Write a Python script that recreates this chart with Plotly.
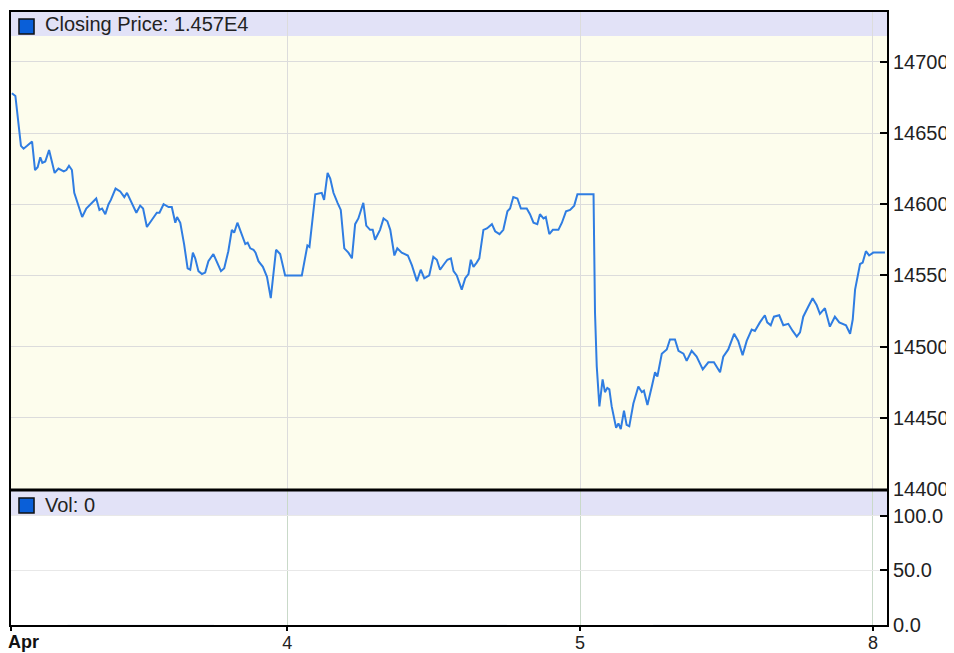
import plotly.graph_objects as go

# trading-session position (4 = Apr 4 open, 5 = Apr 5, 6 = Apr 8; weekend compressed)
session_pos = [3.060,3.072,3.091,3.100,3.112,3.129,3.139,3.148,3.157,3.164,
3.174,3.187,3.206,3.219,3.237,3.246,3.255,3.265,3.273,3.284,
3.300,3.314,3.328,3.339,3.348,3.359,3.368,3.379,3.390,3.398,
3.414,3.430,3.444,3.453,3.467,3.485,3.498,3.508,3.521,3.538,
3.555,3.564,3.578,3.595,3.606,3.618,3.624,3.635,3.648,3.660,
3.669,3.678,3.686,3.697,3.709,3.720,3.731,3.748,3.760,3.774,
3.785,3.799,3.811,3.819,3.830,3.842,3.857,3.865,3.874,3.885,
3.892,3.902,3.917,3.931,3.944,3.962,3.976,3.993,4.050,4.069,
4.076,4.096,4.118,4.126,4.138,4.147,4.158,4.172,4.183,4.195,
4.209,4.221,4.232,4.243,4.252,4.260,4.270,4.283,4.292,4.300,
4.317,4.329,4.342,4.352,4.366,4.376,4.391,4.403,4.412,4.426,
4.443,4.456,4.468,4.485,4.499,4.511,4.522,4.536,4.547,4.559,
4.568,4.579,4.596,4.608,4.619,4.627,4.636,4.647,4.656,4.670,
4.682,4.699,4.710,4.725,4.738,4.752,4.761,4.772,4.786,4.798,
4.818,4.829,4.841,4.854,4.863,4.875,4.883,4.895,4.907,4.926,
4.938,4.952,4.966,4.980,4.991,5.046,5.051,5.057,5.066,5.077,
5.085,5.093,5.100,5.108,5.123,5.131,5.139,5.150,5.159,5.168,
5.182,5.199,5.211,5.218,5.230,5.245,5.256,5.264,5.279,5.296,
5.307,5.324,5.336,5.353,5.364,5.381,5.398,5.419,5.438,5.457,
5.478,5.489,5.506,5.526,5.540,5.555,5.569,5.586,5.597,5.614,
5.631,5.639,5.651,5.662,5.680,5.694,5.711,5.726,5.740,5.751,
5.762,5.779,5.794,5.808,5.819,5.836,5.853,5.870,5.885,5.908,
5.922,5.931,5.939,5.956,5.965,5.976,5.987,6.001,6.041]

closing_price = [14678,14676,14641,14639,14641,14644,14624,14626,14633,14629,
14630,14638,14622,14625,14623,14624,14627,14624,14608,14601,
14591,14597,14600,14602,14604,14596,14597,14593,14600,14603,
14611,14609,14605,14608,14602,14594,14599,14597,14584,14589,
14594,14594,14600,14598,14598,14587,14591,14587,14572,14555,
14554,14566,14562,14553,14551,14552,14560,14565,14560,14553,
14555,14567,14582,14580,14587,14580,14572,14573,14569,14568,
14566,14560,14556,14549,14534,14568,14565,14550,14550,14571,
14570,14607,14608,14603,14622,14618,14608,14601,14596,14569,
14566,14562,14586,14590,14596,14601,14585,14582,14582,14575,
14582,14590,14588,14582,14564,14569,14566,14565,14564,14557,
14546,14554,14548,14550,14563,14561,14554,14558,14561,14562,
14553,14550,14540,14548,14551,14561,14556,14559,14562,14582,
14583,14586,14581,14579,14582,14595,14597,14605,14604,14597,
14597,14593,14587,14586,14593,14590,14591,14579,14582,14582,
14587,14595,14596,14599,14607,14607,14524,14486,14458,14477,
14468,14471,14470,14458,14443,14446,14442,14455,14445,14444,
14460,14472,14468,14469,14459,14472,14482,14479,14495,14498,
14505,14505,14497,14495,14490,14497,14493,14484,14489,14489,
14482,14493,14498,14509,14504,14494,14504,14512,14511,14517,
14522,14517,14515,14521,14522,14515,14516,14511,14507,14510,
14521,14528,14534,14529,14523,14527,14514,14521,14517,14515,
14509,14519,14540,14558,14559,14567,14564,14566,14566]

volume_pos = [3.5, 4.5, 5.5]
volume = [0, 0, 0]

tick_pos = [3.0585, 4, 5, 6]
tick_text = ["", "4", "5", "8"]
month_label = "Apr"

price_ticks = [14400, 14450, 14500, 14550, 14600, 14650, 14700]
vol_ticks = [0, 50, 100]

FONT = "Liberation Sans"
FS = 20
LINE_BLUE = "#2f7de2"
BAND = "#e2e2f7"
TXT = "#222222"

fig = go.Figure()
fig.add_trace(go.Scatter(x=session_pos, y=closing_price, mode="lines",
                         line=dict(color=LINE_BLUE, width=2),
                         xaxis="x2", yaxis="y2", showlegend=False,
                         hoverinfo="x+y"))
fig.add_trace(go.Bar(x=volume_pos, y=volume, marker_color=LINE_BLUE,
                     xaxis="x", yaxis="y", showlegend=False))

split_lo = 0.2186
split_hi = 0.2219
xr = [3.057, 6.048]

axis_common = dict(showline=True, linecolor="black", linewidth=2, mirror=True,
                   zeroline=False, automargin=False)

fig.update_layout(
    width=946, height=645,
    margin=dict(l=3, r=67, t=4, b=28, autoexpand=False),
    paper_bgcolor="white",
    plot_bgcolor="white",
    font=dict(family=FONT, size=FS, color=TXT),
    xaxis=dict(domain=[0, 1], anchor="y", range=xr, tickmode="array",
               tickvals=tick_pos, ticktext=tick_text, ticks="outside",
               ticklen=4, tickcolor="black", tickwidth=2,
               ticklabelstandoff=-4,
               showgrid=True, gridcolor="#c9d9c9", gridwidth=1,
               tickfont=dict(family=FONT, size=18, color=TXT),
               **axis_common),
    xaxis2=dict(domain=[0, 1], anchor="y2", matches="x", range=xr,
                tickmode="array", tickvals=tick_pos, showticklabels=False,
                ticks="", showgrid=True, gridcolor="#dcdcdc", gridwidth=1,
                **axis_common),
    yaxis=dict(domain=[0, split_lo], anchor="x", side="right",
               range=[0, 122.9], tickmode="array", tickvals=vol_ticks,
               tickformat=".1f", ticks="inside", ticklen=7,
               tickcolor="black", tickwidth=1.5, showgrid=True,
               gridcolor="#e8e8e8", tickfont=dict(family=FONT, size=FS),
               **axis_common),
    yaxis2=dict(domain=[split_hi, 1], anchor="x2", side="right",
                range=[14400, 14735], tickmode="array", tickvals=price_ticks,
                tickformat="d",
                ticks="inside", ticklen=7, tickcolor="black", tickwidth=1.5,
                showgrid=True, gridcolor="#dcdcdc",
                tickfont=dict(family=FONT, size=FS),
                **axis_common),
    shapes=[
        dict(type="rect", xref="x2 domain", yref="y2 domain", x0=0, x1=1,
             y0=0, y1=1, fillcolor="#fdfded", line_width=0, layer="below"),
        dict(type="rect", xref="x2 domain", yref="y2 domain", x0=0, x1=1,
             y0=0.9497, y1=1, fillcolor=BAND, line_width=0, layer="below"),
        dict(type="rect", xref="x domain", yref="y domain", x0=0, x1=1,
             y0=0.8134, y1=1, fillcolor=BAND, line_width=0, layer="below"),
        dict(type="rect", xref="x2 domain", yref="y2 domain",
             x0=0.0091, x1=0.0263, y0=0.9539, y1=0.9853,
             fillcolor="#0a5fd8", line=dict(color="#111111", width=1.5)),
        dict(type="rect", xref="x domain", yref="y domain",
             x0=0.0091, x1=0.0263, y0=0.836, y1=0.948,
             fillcolor="#0a5fd8", line=dict(color="#111111", width=1.5)),
        dict(type="line", xref="paper", yref="paper", x0=0, x1=1,
             y0=0.2202, y1=0.2202, line=dict(color="black", width=3)),
    ],
    annotations=[
        dict(xref="x2 domain", yref="y2 domain", x=0.0365, y=0.9748,
             xanchor="left", yanchor="middle", showarrow=False,
             text=f"Closing Price: {closing_price[-1]/1e4:.3f}E4",
             font=dict(family=FONT, size=FS, color=TXT)),
        dict(xref="x domain", yref="y domain", x=0.0365, y=0.892,
             xanchor="left", yanchor="middle", showarrow=False,
             text=f"Vol: {volume[-1]}",
             font=dict(family=FONT, size=FS, color=TXT)),
        dict(xref="x domain", yref="paper", x=0, y=0, yshift=-5,
             xanchor="left", yanchor="top", xshift=-5, showarrow=False,
             text=f"<b>{month_label}</b>",
             font=dict(family=FONT, size=18, color="#111111")),
    ],
    bargap=0.5,
)

fig.write_html("out.html")
